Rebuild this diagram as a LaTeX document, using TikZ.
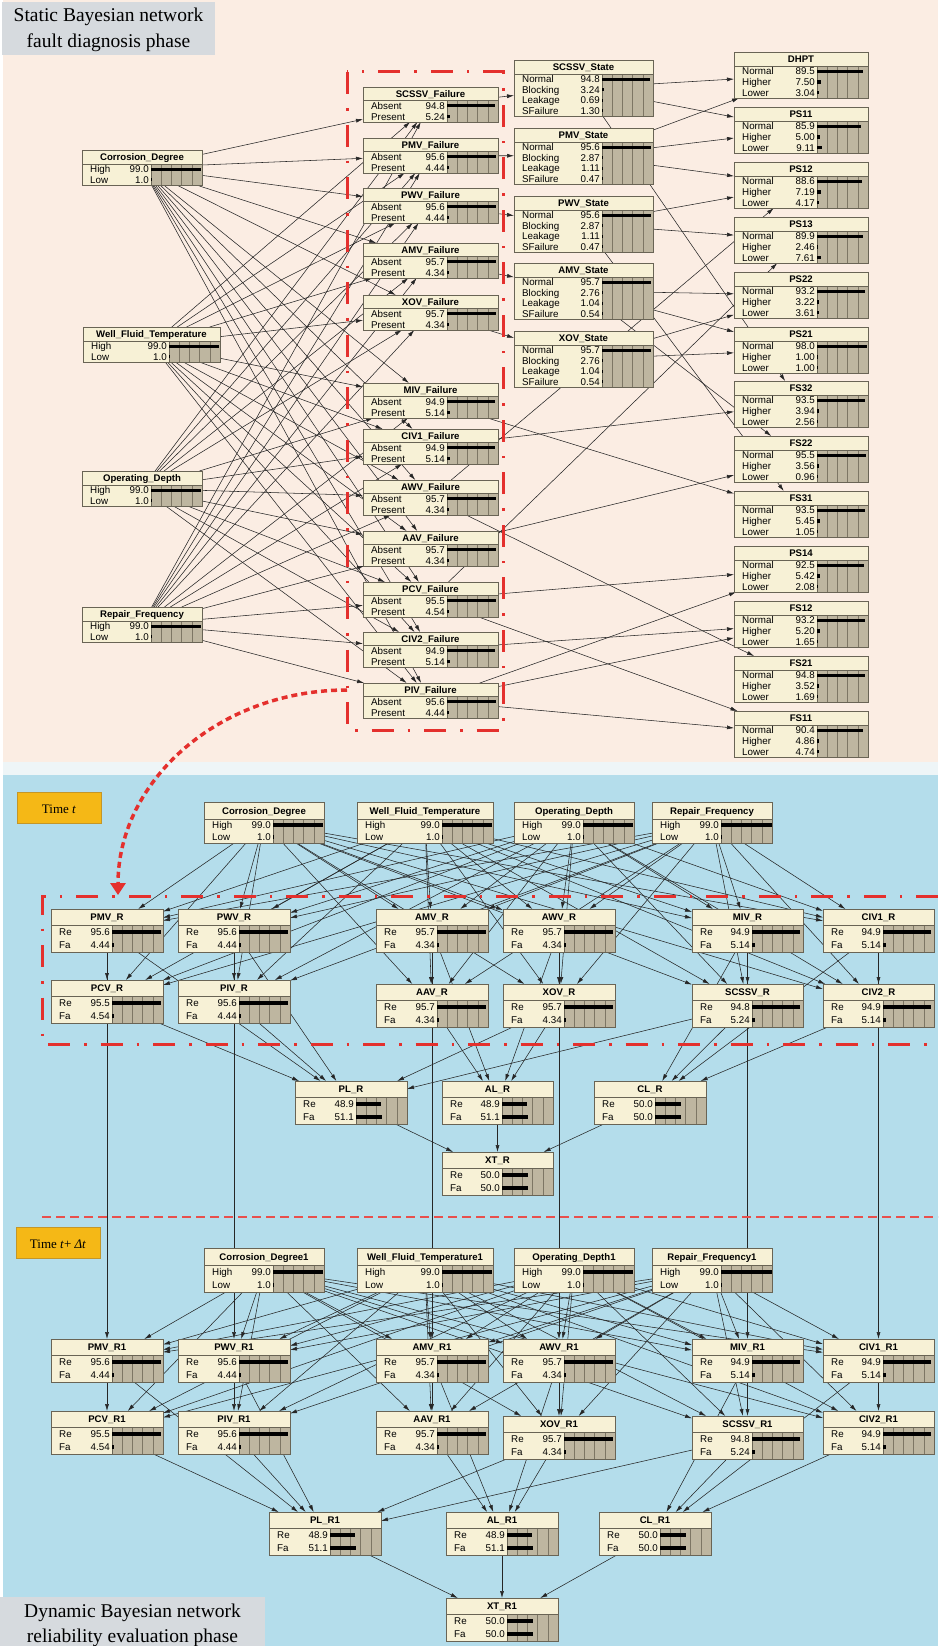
\documentclass[tikz,border=0pt]{standalone}
\usepackage{fontspec}
\setmainfont{Liberation Serif}
\newfontfamily\bnsans{Liberation Sans}
\usetikzlibrary{arrows.meta}

\pgfdeclarelayer{bg}
\pgfdeclarelayer{arcs}
\pgfsetlayers{bg,arcs,main}

\definecolor{bncream}{RGB}{247,241,214}
\definecolor{bnbar}{RGB}{190,182,160}
\definecolor{bnborder}{RGB}{105,100,85}
\definecolor{bngridc}{RGB}{125,118,100}
\definecolor{peachbg}{RGB}{251,237,227}
\definecolor{stripbg}{RGB}{238,245,247}
\definecolor{bluebg}{RGB}{180,221,235}
\definecolor{bnred}{RGB}{228,48,45}
\definecolor{timeorange}{RGB}{245,184,22}
\definecolor{timeedge}{RGB}{196,150,40}
\definecolor{phasegrey}{RGB}{214,218,222}

% geometry of a Netica-style belief box
\newcommand\bnTH{14}   % title row height
\newcommand\bnRH{10.5} % state row height
\newcommand\bnBW{51}   % width of the bar area
\newcommand\bnBT{1.6}  % half thickness of a belief bar

% #1 name, #2 left, #3 top, #4 width, #5 number of states, #6 title, #7 state/value list
\newcommand\bnnode[7]{%
  \pgfmathsetmacro\bnH{\bnTH+#5*\bnRH}%
  \pgfmathsetmacro\bnR{#2+#4}%
  \pgfmathsetmacro\bnB{#3+\bnH}%
  \pgfmathsetmacro\bnS{#3+\bnTH}%
  \pgfmathsetmacro\bnX{\bnR-\bnBW}%
  \node[bnshape,minimum width=#4pt,minimum height=\bnH pt] (#1) at ({#2+#4/2},{#3+\bnH/2}) {};
  \fill[bncream] (#2,#3) rectangle (\bnR,\bnB);
  \fill[bnbar] (\bnX,\bnS) rectangle (\bnR,\bnB);
  \foreach \k in {1,...,4} \draw[bngrid] ({\bnX+\k*\bnBW/5},\bnS) -- ({\bnX+\k*\bnBW/5},\bnB);
  \draw[bnline] (#2,\bnS) -- (\bnR,\bnS) (\bnX,\bnS) -- (\bnX,\bnB);
  \draw[bnline] (#2,#3) rectangle (\bnR,\bnB);
  \node[bntitle] at ({#2+#4/2},{#3+\bnTH/2}) {#6};
  \foreach \lab/\val [count=\i] in {#7} {%
    \pgfmathsetmacro\cy{\bnS+(\i-0.5)*\bnRH}%
    \pgfmathsetmacro\bl{max(1.2,\val*\bnBW/100)}%
    \node[bnrow,anchor=west] at (#2+8,\cy) {\lab};
    \node[bnrow,anchor=east] at (\bnX-2,\cy) {\val};
    \fill[black] (\bnX,\cy-\bnBT) rectangle (\bnX+\bl,\cy+\bnBT);
  }%
}

\begin{document}
\begin{tikzpicture}[x=1pt,y=-1pt,
  bnshape/.style={rectangle,draw=none,inner sep=0pt,outer sep=0pt},
  bnline/.style={draw=bnborder,line width=0.6pt},
  bngrid/.style={draw=bngridc,line width=0.45pt},
  bntitle/.style={inner sep=0pt,font=\bnsans\bfseries\fontsize{9.6}{10}\selectfont,text height=7pt,text depth=0pt},
  bnrow/.style={inner sep=0pt,font=\bnsans\fontsize{9.8}{10}\selectfont,text height=7pt,text depth=0pt},
  bnarc/.style={draw=black!85,line width=0.55pt,-{Latex[length=7pt,width=4pt]}},
  redbox/.style={draw=bnred,line width=3pt,dash pattern=on 22pt off 14pt on 2.5pt off 14pt},
  phasebox/.style={fill=phasegrey,draw=none},
  phasetext/.style={inner sep=0pt,anchor=base,font=\fontsize{19.5}{22}\selectfont},
  timebox/.style={fill=timeorange,draw=timeedge,line width=0.8pt},
  timetext/.style={inner sep=0pt,anchor=base,font=\fontsize{13}{15}\selectfont},
]
\useasboundingbox (0,0) rectangle (938,1646);

% ---------- panel backgrounds ----------
\begin{pgfonlayer}{bg}
  \fill[white] (0,0) rectangle (938,1646);
  \fill[peachbg] (3,0) rectangle (938,762);
  \fill[stripbg] (3,762) rectangle (938,775);
  \fill[bluebg] (3,775) rectangle (938,1646);
\end{pgfonlayer}

% ================= static network =================
\renewcommand\bnTH{14}\renewcommand\bnRH{10.5}\renewcommand\bnBT{1.6}
\bnnode{tCD}{82}{150}{120}{2}{Corrosion\_Degree}{High/99.0,Low/1.0}
\bnnode{tWF}{83}{327}{137}{2}{Well\_Fluid\_Temperature}{High/99.0,Low/1.0}
\bnnode{tOD}{82}{471}{120}{2}{Operating\_Depth}{High/99.0,Low/1.0}
\bnnode{tRF}{82}{607}{120}{2}{Repair\_Frequency}{High/99.0,Low/1.0}

\renewcommand\bnTH{13}\renewcommand\bnRH{11}
\bnnode{fSCSSV}{363}{87}{135}{2}{SCSSV\_Failure}{Absent/94.8,Present/5.24}
\bnnode{fPMV}{363}{138}{135}{2}{PMV\_Failure}{Absent/95.6,Present/4.44}
\bnnode{fPWV}{363}{188}{135}{2}{PWV\_Failure}{Absent/95.6,Present/4.44}
\bnnode{fAMV}{363}{243}{135}{2}{AMV\_Failure}{Absent/95.7,Present/4.34}
\bnnode{fXOV}{363}{295}{135}{2}{XOV\_Failure}{Absent/95.7,Present/4.34}
\bnnode{fMIV}{363}{383}{135}{2}{MIV\_Failure}{Absent/94.9,Present/5.14}
\bnnode{fCIV1}{363}{429}{135}{2}{CIV1\_Failure}{Absent/94.9,Present/5.14}
\bnnode{fAWV}{363}{480}{135}{2}{AWV\_Failure}{Absent/95.7,Present/4.34}
\bnnode{fAAV}{363}{531}{135}{2}{AAV\_Failure}{Absent/95.7,Present/4.34}
\bnnode{fPCV}{363}{582}{135}{2}{PCV\_Failure}{Absent/95.5,Present/4.54}
\bnnode{fCIV2}{363}{632}{135}{2}{CIV2\_Failure}{Absent/94.9,Present/5.14}
\bnnode{fPIV}{363}{683}{135}{2}{PIV\_Failure}{Absent/95.6,Present/4.44}

\renewcommand\bnTH{14}\renewcommand\bnRH{10.5}
\bnnode{sSCSSV}{514}{60}{139}{4}{SCSSV\_State}{Normal/94.8,Blocking/3.24,Leakage/0.69,SFailure/1.30}
\bnnode{sPMV}{514}{128}{139}{4}{PMV\_State}{Normal/95.6,Blocking/2.87,Leakage/1.11,SFailure/0.47}
\bnnode{sPWV}{514}{196}{139}{4}{PWV\_State}{Normal/95.6,Blocking/2.87,Leakage/1.11,SFailure/0.47}
\bnnode{sAMV}{514}{263}{139}{4}{AMV\_State}{Normal/95.7,Blocking/2.76,Leakage/1.04,SFailure/0.54}
\bnnode{sXOV}{514}{331}{139}{4}{XOV\_State}{Normal/95.7,Blocking/2.76,Leakage/1.04,SFailure/0.54}

\renewcommand\bnTH{14}\renewcommand\bnRH{10.7}
\bnnode{pDHPT}{734}{52}{134}{3}{DHPT}{Normal/89.5,Higher/7.50,Lower/3.04}
\bnnode{pPS11}{734}{107}{134}{3}{PS11}{Normal/85.9,Higher/5.00,Lower/9.11}
\bnnode{pPS12}{734}{162}{134}{3}{PS12}{Normal/88.6,Higher/7.19,Lower/4.17}
\bnnode{pPS13}{734}{217}{134}{3}{PS13}{Normal/89.9,Higher/2.46,Lower/7.61}
\bnnode{pPS22}{734}{272}{134}{3}{PS22}{Normal/93.2,Higher/3.22,Lower/3.61}
\bnnode{pPS21}{734}{327}{134}{3}{PS21}{Normal/98.0,Higher/1.00,Lower/1.00}
\bnnode{pFS32}{734}{381}{134}{3}{FS32}{Normal/93.5,Higher/3.94,Lower/2.56}
\bnnode{pFS22}{734}{436}{134}{3}{FS22}{Normal/95.5,Higher/3.56,Lower/0.96}
\bnnode{pFS31}{734}{491}{134}{3}{FS31}{Normal/93.5,Higher/5.45,Lower/1.05}
\bnnode{pPS14}{734}{546}{134}{3}{PS14}{Normal/92.5,Higher/5.42,Lower/2.08}
\bnnode{pFS12}{734}{601}{134}{3}{FS12}{Normal/93.2,Higher/5.20,Lower/1.65}
\bnnode{pFS21}{734}{656}{134}{3}{FS21}{Normal/94.8,Higher/3.52,Lower/1.69}
\bnnode{pFS11}{734}{711}{134}{3}{FS11}{Normal/90.4,Higher/4.86,Lower/4.74}

% ================= dynamic network, slice t =================
\renewcommand\bnTH{17}\renewcommand\bnRH{12}\renewcommand\bnBT{2}
\bnnode{aCD}{204}{802}{120}{2}{Corrosion\_Degree}{High/99.0,Low/1.0}
\bnnode{aWF}{357}{802}{136}{2}{Well\_Fluid\_Temperature}{High/99.0,Low/1.0}
\bnnode{aOD}{514}{802}{120}{2}{Operating\_Depth}{High/99.0,Low/1.0}
\bnnode{aRF}{652}{802}{120}{2}{Repair\_Frequency}{High/99.0,Low/1.0}

\renewcommand\bnTH{16}\renewcommand\bnRH{13.5}
\bnnode{aPMV}{51}{909}{112}{2}{PMV\_R}{Re/95.6,Fa/4.44}
\bnnode{aPWV}{178}{909}{112}{2}{PWV\_R}{Re/95.6,Fa/4.44}
\bnnode{aAMV}{376}{909}{112}{2}{AMV\_R}{Re/95.7,Fa/4.34}
\bnnode{aAWV}{503}{909}{112}{2}{AWV\_R}{Re/95.7,Fa/4.34}
\bnnode{aMIV}{692}{909}{111}{2}{MIV\_R}{Re/94.9,Fa/5.14}
\bnnode{aCIV1}{823}{909}{111}{2}{CIV1\_R}{Re/94.9,Fa/5.14}
\bnnode{aPCV}{51}{980}{112}{2}{PCV\_R}{Re/95.5,Fa/4.54}
\bnnode{aPIV}{178}{980}{112}{2}{PIV\_R}{Re/95.6,Fa/4.44}
\bnnode{aAAV}{376}{984}{112}{2}{AAV\_R}{Re/95.7,Fa/4.34}
\bnnode{aXOV}{503}{984}{112}{2}{XOV\_R}{Re/95.7,Fa/4.34}
\bnnode{aSCSSV}{692}{984}{111}{2}{SCSSV\_R}{Re/94.8,Fa/5.24}
\bnnode{aCIV2}{823}{984}{111}{2}{CIV2\_R}{Re/94.9,Fa/5.14}
\bnnode{aPL}{295}{1081}{112}{2}{PL\_R}{Re/48.9,Fa/51.1}
\bnnode{aAL}{442}{1081}{111}{2}{AL\_R}{Re/48.9,Fa/51.1}
\bnnode{aCL}{594}{1081}{112}{2}{CL\_R}{Re/50.0,Fa/50.0}
\bnnode{aXT}{442}{1152}{111}{2}{XT\_R}{Re/50.0,Fa/50.0}

% ================= dynamic network, slice t + dt =================
\renewcommand\bnTH{17}\renewcommand\bnRH{13.5}
\bnnode{bCD}{204}{1248}{120}{2}{Corrosion\_Degree1}{High/99.0,Low/1.0}
\bnnode{bWF}{357}{1248}{136}{2}{Well\_Fluid\_Temperature1}{High/99.0,Low/1.0}
\bnnode{bOD}{514}{1248}{120}{2}{Operating\_Depth1}{High/99.0,Low/1.0}
\bnnode{bRF}{652}{1248}{120}{2}{Repair\_Frequency1}{High/99.0,Low/1.0}

\renewcommand\bnTH{16}\renewcommand\bnRH{13.5}
\bnnode{bPMV}{51}{1339}{112}{2}{PMV\_R1}{Re/95.6,Fa/4.44}
\bnnode{bPWV}{178}{1339}{112}{2}{PWV\_R1}{Re/95.6,Fa/4.44}
\bnnode{bAMV}{376}{1339}{112}{2}{AMV\_R1}{Re/95.7,Fa/4.34}
\bnnode{bAWV}{503}{1339}{112}{2}{AWV\_R1}{Re/95.7,Fa/4.34}
\bnnode{bMIV}{692}{1339}{111}{2}{MIV\_R1}{Re/94.9,Fa/5.14}
\bnnode{bCIV1}{823}{1339}{111}{2}{CIV1\_R1}{Re/94.9,Fa/5.14}
\bnnode{bPCV}{51}{1411}{112}{2}{PCV\_R1}{Re/95.5,Fa/4.54}
\bnnode{bPIV}{178}{1411}{112}{2}{PIV\_R1}{Re/95.6,Fa/4.44}
\bnnode{bAAV}{376}{1411}{112}{2}{AAV\_R1}{Re/95.7,Fa/4.34}
\bnnode{bXOV}{503}{1416}{112}{2}{XOV\_R1}{Re/95.7,Fa/4.34}
\bnnode{bSCSSV}{692}{1416}{111}{2}{SCSSV\_R1}{Re/94.8,Fa/5.24}
\bnnode{bCIV2}{823}{1411}{111}{2}{CIV2\_R1}{Re/94.9,Fa/5.14}
\bnnode{bPL}{269}{1512}{112}{2}{PL\_R1}{Re/48.9,Fa/51.1}
\bnnode{bAL}{446}{1512}{112}{2}{AL\_R1}{Re/48.9,Fa/51.1}
\bnnode{bCL}{599}{1512}{112}{2}{CL\_R1}{Re/50.0,Fa/50.0}
\bnnode{bXT}{446}{1598}{112}{2}{XT\_R1}{Re/50.0,Fa/50.0}

% ---------- arcs, drawn beneath the boxes ----------
\begin{pgfonlayer}{arcs}
  % static network: environment factors -> component failures
  \foreach \r in {tCD,tWF,tOD,tRF}
    \foreach \c in {fSCSSV,fPMV,fPWV,fAMV,fXOV,fMIV,fCIV1,fAWV,fAAV,fPCV,fCIV2,fPIV}
      \draw[bnarc] (\r) -- (\c);
  % failures -> valve states
  \foreach \c in {SCSSV,PMV,PWV,AMV,XOV}
    \draw[bnarc] (f\c) -- (s\c);
  % valve states -> sensors
  \foreach \a/\b in {sSCSSV/pDHPT,sSCSSV/pPS11,sSCSSV/pFS32,
                     sPMV/pDHPT,sPMV/pPS11,sPMV/pPS12,
                     sPWV/pPS12,sPWV/pPS13,sPWV/pFS31,
                     sAMV/pPS22,sAMV/pPS21,sAMV/pFS22,
                     sXOV/pPS22,sXOV/pPS21}
    \draw[bnarc] (\a) -- (\b);
  % remaining failures -> sensors
  \foreach \a/\b in {fMIV/pFS31,fCIV1/pFS32,fAWV/pPS12,fAWV/pFS21,fAAV/pFS22,
                     fPCV/pPS13,fPCV/pPS14,fPCV/pFS11,fCIV2/pFS12,
                     fPIV/pFS12,fPIV/pPS14,fPIV/pFS11}
    \draw[bnarc] (\a) -- (\b);

  % dynamic network, both slices
  \foreach \L in {a,b} {
    \foreach \r in {CD,WF,OD,RF}
      \foreach \c in {PMV,PWV,AMV,AWV,MIV,CIV1,PCV,PIV,AAV,XOV,SCSSV,CIV2}
        \draw[bnarc] (\L\r) -- (\L\c);
    \foreach \a/\b in {PMV/PCV,PWV/PIV,AMV/AAV,AWV/XOV,MIV/SCSSV,CIV1/CIV2,
                       PMV/PL,PWV/PL,PCV/PL,PIV/PL,XOV/PL,SCSSV/PL,
                       AMV/AL,AWV/AL,AAV/AL,XOV/AL,
                       MIV/CL,CIV1/CL,SCSSV/CL,CIV2/CL,
                       PL/XT,AL/XT,CL/XT}
      \draw[bnarc] (\L\a) -- (\L\b);
  }
  % temporal links between the slices
  \foreach \c in {PMV,PWV,AMV,AWV,MIV,CIV1}
    \draw[bnarc] (a\c) -- (b\c);
\end{pgfonlayer}

% ---------- grouping frames and phase labels ----------
\draw[redbox] (347,72) rectangle (503,730);
\draw[redbox] (938,896) -- (42,896) -- (42,1044) -- (938,1044);
\draw[draw=bnred!85,line width=1.3pt,dash pattern=on 9pt off 5pt] (42,1217) -- (938,1217);
\draw[draw=bnred,line width=3.5pt,dash pattern=on 6pt off 4pt,
      -{Triangle[length=12pt,width=15pt]}]
  (347,690) .. controls (220,690) and (118,780) .. (118,895);

\fill[phasebox] (2,2) rectangle (215,55);
\node[phasetext] at (108.5,21.5) {Static Bayesian network};
\node[phasetext] at (108.5,47.5) {fault diagnosis phase};

\fill[phasebox] (0,1597) rectangle (265,1646);
\node[phasetext] at (132.5,1617) {Dynamic Bayesian network};
\node[phasetext] at (132.5,1642) {reliability evaluation phase};

\draw[timebox] (17,792) rectangle (101,823);
\node[timetext] at (59,813) {Time \textit{t}};
\draw[timebox] (16,1227) rectangle (100,1258);
\node[timetext] at (58,1248) {Time \textit{t}+ \textit{Δt}};
\end{tikzpicture}
\end{document}
